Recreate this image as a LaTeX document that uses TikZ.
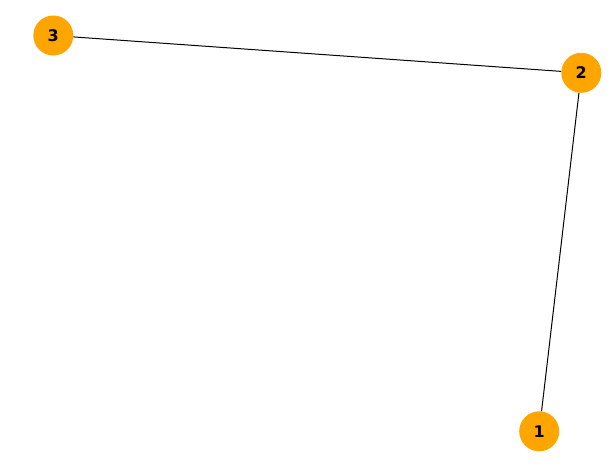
\documentclass[tikz,border=0pt]{standalone}
\usepackage{fontspec}
\setmainfont{DejaVu Sans}
\begin{document}
\begin{tikzpicture}[x=1pt,y=-1pt,
  vertex/.style={circle,fill={rgb,255:red,255;green,165;blue,0},draw=none,minimum size=40pt,inner sep=0pt,font=\bfseries\fontsize{16}{18}\selectfont},
  edge/.style={draw=black,line width=1pt}]
\useasboundingbox (0,0) rectangle (615,473);
\node[vertex] (n3) at (53.3,35.5) {3};
\node[vertex] (n2) at (581.3,72.8) {2};
\node[vertex] (n1) at (539.2,431.3) {1};
\draw[edge] (n3) -- (n2);
\draw[edge] (n2) -- (n1);
\end{tikzpicture}
\end{document}
